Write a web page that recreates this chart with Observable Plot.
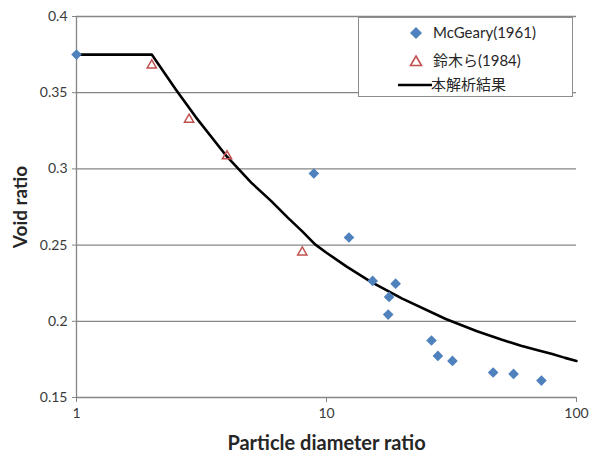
<!DOCTYPE html>
<html><head><meta charset="utf-8">
<script src="https://cdn.jsdelivr.net/npm/d3@7"></script>
<script src="https://cdn.jsdelivr.net/npm/@observablehq/plot@0.6"></script>
<style>
body{margin:0;background:#fff;font-family:Lato,"Noto Sans CJK JP",sans-serif;}
#chart{position:relative;width:596px;height:460px;}
#legend{position:absolute;left:358px;top:17px;width:215px;height:80px;border:1px solid #8c8c8c;background:#fff;box-sizing:border-box;}
.li{position:absolute;font-size:15px;color:#262626;white-space:nowrap;line-height:17px;}
.sw{position:absolute;}
</style>
</head><body>
<div id="chart"><div id="legend"></div></div>
<script>
// McGeary (1961)
const mcX = [1, 8.9, 12.3, 15.3, 18.9, 17.8, 17.65, 26.3, 27.9, 31.9, 46.4, 56.0, 72.4];
const mcY = [0.375, 0.297, 0.255, 0.2265, 0.2247, 0.216, 0.2044, 0.1874, 0.1773, 0.174, 0.1664, 0.1655, 0.1611];
// 鈴木ら (1984)
const szX = [2.0, 2.82, 4.0, 8.0];
const szY = [0.368, 0.3324, 0.3084, 0.2453];
// 本解析結果
const lnX = [1, 2, 2.5, 3, 4, 5, 6, 7, 8, 9, 10, 12, 15, 20, 30, 40, 50, 60, 70, 80, 90, 100];
const lnY = [0.375, 0.375, 0.352, 0.334, 0.308, 0.291, 0.279, 0.268, 0.259, 0.2505, 0.245, 0.236, 0.226, 0.215, 0.2015, 0.1935, 0.188, 0.184, 0.181, 0.1785, 0.176, 0.174];
const xTicks = [1, 10, 100];
const yTicks = [0.15, 0.2, 0.25, 0.3, 0.35, 0.4];
const seriesNames = ["McGeary(1961)", "鈴木ら(1984)", "本解析結果"];
const xTitle = "Particle diameter ratio";
const yTitle = "Void ratio";

const mc = mcX.map((x, i) => ({x, y: mcY[i]}));
const sz = szX.map((x, i) => ({x, y: szY[i]}));
const ln = lnX.map((x, i) => ({x, y: lnY[i]}));

const grey = "#868686";
const font = 'Lato, "Noto Sans CJK JP", sans-serif';

const plot = Plot.plot({
  width: 596, height: 460,
  marginLeft: 76, marginRight: 20, marginTop: 16, marginBottom: 63,
  style: {fontFamily: font, background: "#fff", color: "#333"},
  x: {type: "log", domain: [1, 100]},
  y: {domain: [0.15, 0.4]},
  marks: [
    Plot.gridY(yTicks, {stroke: grey, strokeOpacity: 1, strokeWidth: 1.3}),
    Plot.ruleX([1], {stroke: grey, strokeWidth: 1.3}),
    Plot.axisY({ticks: yTicks, tickSize: 4, tickPadding: 5, tickFormat: d => String(d), stroke: grey, fontSize: 14, fill: "#3a3a3a", label: null}),
    Plot.axisY({ticks: [], tickSize: 0, label: yTitle, labelAnchor: "center", labelArrow: "none", labelOffset: 63, fontSize: 19, fontWeight: "bold", fill: "#262626"}),
    Plot.axisX({ticks: xTicks, tickSize: 5, tickPadding: 6, tickFormat: d => String(d), stroke: grey, fontSize: 14, fill: "#3a3a3a", label: null}),
    Plot.axisX({ticks: [], tickSize: 0, label: xTitle, labelAnchor: "center", labelArrow: "none", labelOffset: 52, fontSize: 20, fontWeight: "bold", fill: "#262626"}),
    Plot.line(ln, {x: "x", y: "y", stroke: "#000", strokeWidth: 2.6}),
    Plot.dot(sz, {x: "x", y: "y", symbol: "triangle2", r: 4.4, stroke: "#C0504D", strokeWidth: 1.5, fill: "none"}),
    Plot.dot(mc, {x: "x", y: "y", symbol: "diamond2", r: 4.8, fill: "#4F81BD", stroke: "none"})
  ]
});
document.getElementById("chart").prepend(plot);

const lg = document.getElementById("legend");
lg.innerHTML = `
  <svg class="sw" style="left:50px;top:8px" width="14" height="14"><path d="M7,1 L13,7 L7,13 L1,7Z" fill="#4F81BD"/></svg>
  <div class="li" style="left:74px;top:6px">${seriesNames[0]}</div>
  <svg class="sw" style="left:50px;top:36px" width="14" height="14"><path d="M7,2 L12.5,11.5 L1.5,11.5Z" fill="none" stroke="#C0504D" stroke-width="1.6"/></svg>
  <div class="li" style="left:74px;top:34px">${seriesNames[1]}</div>
  <svg class="sw" style="left:39px;top:64px" width="34" height="6"><path d="M0,3 L34,3" stroke="#000" stroke-width="2.6"/></svg>
  <div class="li" style="left:72px;top:58px">${seriesNames[2]}</div>
`;
</script>
</body></html>
